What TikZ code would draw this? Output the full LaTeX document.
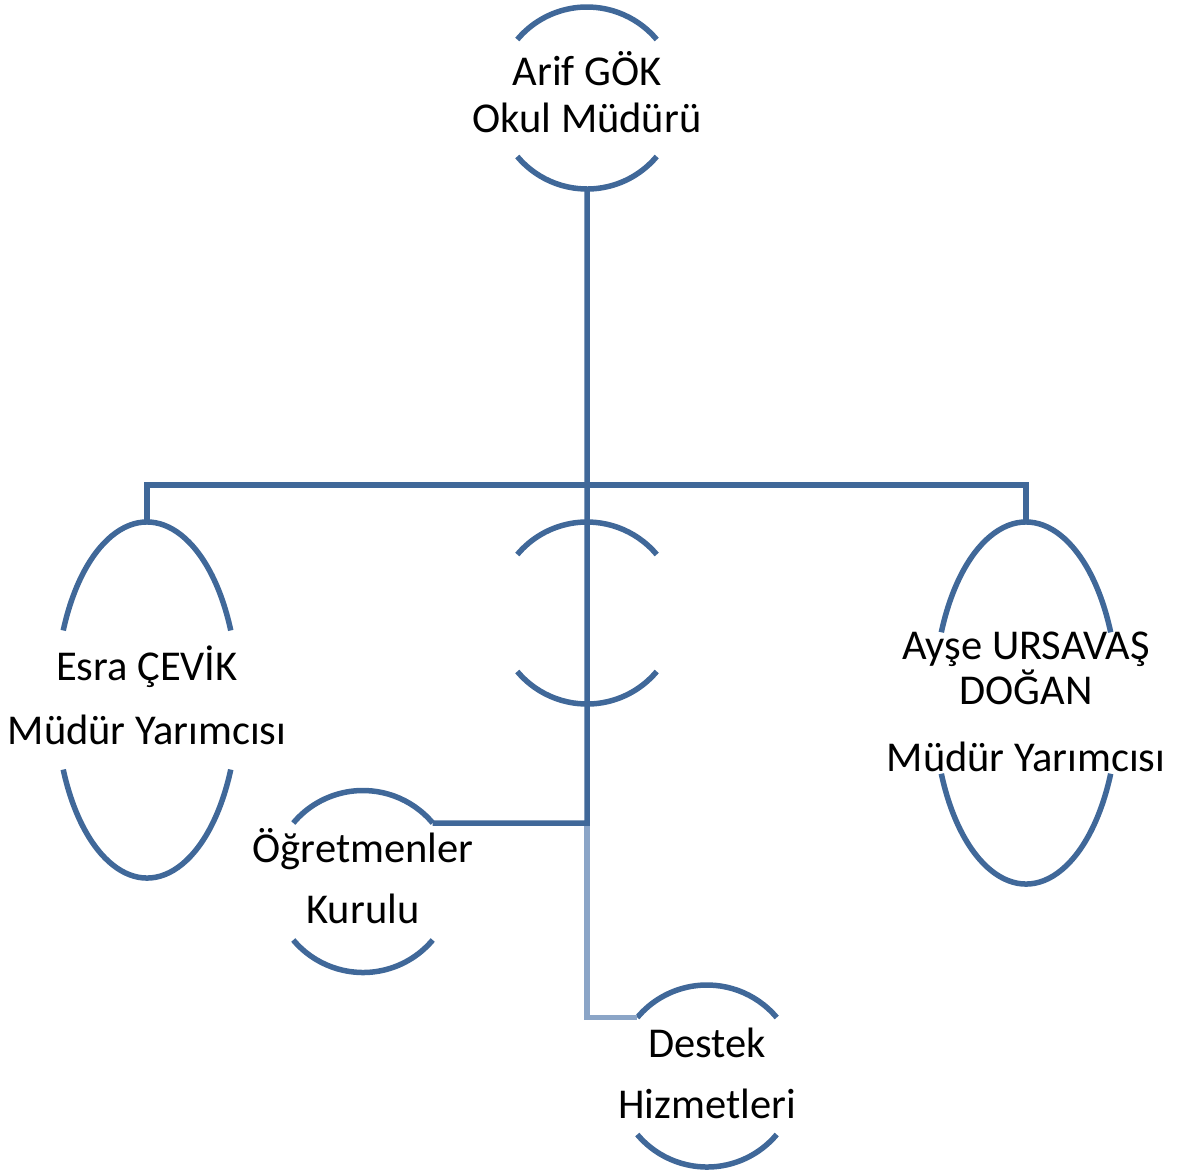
\documentclass[tikz,border=0pt]{standalone}
\usepackage{fontspec}
\setmainfont{Carlito}
\definecolor{dblue}{RGB}{64,104,153}
\definecolor{lblue}{RGB}{139,165,199}
\tikzset{
  arcline/.style={draw=dblue,line width=5.5pt},
  conn/.style={draw=dblue,line width=5.5pt},
  lconn/.style={draw=lblue,line width=5.5pt},
  lbl/.style={anchor=base,inner sep=0pt,font=\fontsize{42.5}{50}\selectfont,text=black}
}
\begin{document}
\begin{tikzpicture}[x=1pt,y=1pt]
\useasboundingbox (0,0) rectangle (1180,-1171);
% centres
\coordinate (arif) at (587,-98);
\coordinate (mid) at (587,-613);
\coordinate (esra) at (147,-700);
\coordinate (ayse) at (1026,-703);
\coordinate (ogr) at (363,-881.5);
\coordinate (destek) at (707,-1076);
% circle arcs
\foreach \c in {arif,mid,ogr,destek}{
  \draw[arcline] ([shift={(40:91pt)}]\c) arc[start angle=40,end angle=140,radius=91pt];
  \draw[arcline] ([shift={(220:91pt)}]\c) arc[start angle=220,end angle=320,radius=91pt];
}
% ellipse arcs
\draw[arcline] ([shift={(23:91pt and 178pt)}]esra) arc[start angle=23,end angle=157,x radius=91pt,y radius=178pt];
\draw[arcline] ([shift={(203:91pt and 178pt)}]esra) arc[start angle=203,end angle=337,x radius=91pt,y radius=178pt];
\draw[arcline] ([shift={(23:92pt and 181pt)}]ayse) arc[start angle=23,end angle=157,x radius=92pt,y radius=181pt];
\draw[arcline] ([shift={(203:92pt and 181pt)}]ayse) arc[start angle=203,end angle=337,x radius=92pt,y radius=181pt];
% connection points
\coordinate (arifB) at ([yshift=-91pt]arif);
\coordinate (esraT) at ([yshift=178pt]esra);
\coordinate (ayseT) at ([yshift=181pt]ayse);
\coordinate (ogrR) at ([shift={(40:91pt)}]ogr);
\coordinate (destL) at ([shift={(140:91pt)}]destek);
\coordinate (bar) at (587,-485);
\coordinate (jn) at (587,-823);
% connectors
\draw[conn] (esraT) |- (bar) -| (ayseT);
\draw[lconn] (jn) |- (destL);
\draw[conn] (arifB) -- (jn) -- (ogrR);
% labels
\node[lbl] (t1) at (587,-85) {Arif GÖK};
\node[lbl] (t2) at (587,-132) {Okul Müdürü};
\node[lbl] (e1) at (147,-680) {Esra ÇEVİK};
\node[lbl] (e2) at (147,-744) {Müdür Yarımcısı};
\node[lbl] (a1) at (1026,-659) {Ayşe URSAVAŞ};
\node[lbl] (a2) at (1026,-704) {DOĞAN};
\node[lbl] (a3) at (1026,-771) {Müdür Yarımcısı};
\node[lbl] (o1) at (363,-862) {Öğretmenler};
\node[lbl] (o2) at (363,-923) {Kurulu};
\node[lbl] (d1) at (707,-1057) {Destek};
\node[lbl] (d2) at (707,-1118) {Hizmetleri};
\end{tikzpicture}
\end{document}
